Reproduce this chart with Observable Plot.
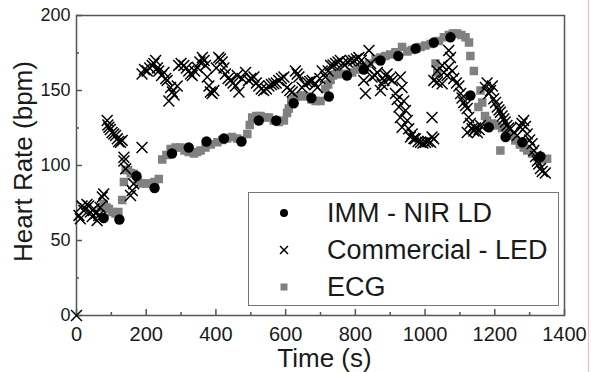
<!DOCTYPE html>
<html>
<head>
<meta charset="utf-8">
<script src="https://cdn.jsdelivr.net/npm/d3@7"></script>
<script src="https://cdn.jsdelivr.net/npm/@observablehq/plot@0.6"></script>
<style>
  body { margin: 0; background: white; }
  #wrap { position: relative; width: 591px; height: 372px; font-family: "Liberation Sans", Arial, sans-serif; color: #1a1a1a; }
  #legend { position: absolute; left: 248px; top: 192px; width: 309px; height: 112px; border: 1.5px solid #777; background: white; }
  .row { position: absolute; left: 0; height: 30px; }
  .row svg { position: absolute; left: 25px; top: 5px; }
  .row span { position: absolute; left: 78px; font-size: 27px; white-space: nowrap; line-height: 30px; top: 0; }
  #pink { position: absolute; left: 588px; top: 0; width: 1px; height: 372px; background: #f3b9b9; }
</style>
</head>
<body>
<div id="wrap">
  <div id="chart"></div>
  <div id="legend"></div>
  <div id="pink"></div>
</div>
<script>
// ---- data ----
const seriesNames = ["IMM - NIR LD", "Commercial - LED", "ECG"];

const immTime = [78,123,172,224,274,322,373,423,473,523,573,623,674,724,776,824,872,923,973,1025,1073,1130,1183,1231,1279,1331];
const immHR   = [65,64,93,85,108,112,116,118,116,130,130,141.5,145,146,160,164,170,173,178,182,185.5,146.7,125.5,119,115.5,106];

const ecgTime = [70,78,86,93,102,112,120,131,136,141,148,156,164,176,188,200,212,224,236,246,258,270,284,298,310,322,337,346,356,370,385,404,418,432,446,461,475,490,497,504,516,528,540,552,566,580,595,604,609,616,623,635,647,660,674,686,700,714,722,729,736,743,752,762,776,791,805,820,839,858,872,886,900,915,934,949,962,975,987,1001,1016,1030,1035,1040,1054,1068,1080,1092,1104,1116,1126,1130,1140,1153,1159,1164,1172,1178,1192,1207,1216,1221,1235,1247,1259,1272,1283,1293,1307,1322,1336,1350];
const ecgHR   = [72,74.5,72,71,69,68,69,77,89,97,97,95,94.5,90,88,88,88,89,91,104,107,111,112,112,110,109,108,109,110,112,114,115.5,117,118,119,118,117,121,127,132,133,133,132,132,130,129,130,135,138,143,144.5,146,146.7,146,144,143,143,151,154,157,160,161,161,161,161,162,164,165.5,168,171,172,173,174,175.5,179,176,177,178,179,180,181,168,162,183,185.5,187,188,188,187,185.5,182,173,163,139,150,142,133,130,128,126.7,110,125,123,120,116.7,114,112,110,108,105.5,104,104.5];

const commTime = [0,7,11,16,21,26,30,35,40,45,50,55,59,64,68,74,78,88,90,93,97,102,107,112,117,121,126,131,136,136,141,155,160,164,188,188,195,203,210,217,222,227,232,236,244,251,256,260,265,270,275,280,289,293,300,308,315,322,327,332,339,346,354,361,366,370,375,380,384,389,394,401,408,413,418,423,427,435,442,449,456,461,466,475,485,494,500,509,516,523,530,537,545,552,559,566,573,580,588,595,604,612,619,628,633,638,647,655,662,669,676,684,691,698,705,714,722,729,736,743,750,757,764,770,777,786,795,803,810,817,824,829,834,839,844,848,856,863,872,877,882,886,891,898,906,915,920,925,929,929,934,934,939,944,949,953,958,963,968,972,980,987,994,1001,1008,1016,1020,1025,1020,1025,1035,1035,1049,1049,1054,1063,1068,1068,1073,1078,1082,1090,1097,1102,1106,1111,1116,1121,1125,1121,1130,1135,1140,1145,1150,1155,1159,1173,1178,1183,1188,1193,1197,1202,1207,1212,1216,1221,1226,1230,1235,1240,1245,1255,1264,1274,1278,1283,1288,1293,1300,1307,1312,1317,1322,1326,1331,1336,1345];
const commHR   = [0,66.7,64.5,73,70,71,74,73,69,66,71,68,63.3,66.7,72,79,81,130,127,125.5,124,122,121,120,117.8,116,115.5,116.7,105.5,103,97.8,80,83.3,87.8,112,161,164,163,165,166.7,168,170,165,163,160,162,158,156.7,143,152,149,147,153,166.7,168,166.7,165,163,161,160,163,165.5,169,172,170,166.7,159,153,149,148,150,165,172,171,169,165,161,158,156.7,155,153,160,149,158,162,156.7,158,159,155,153,151,150,151,153,154,154.5,155,156.7,158,159,152,150,149,163,161,159,152,154,155.5,156,156.7,154,152,158,163,159,163,166.7,167,168,169,170,168,167,169,170,170,171,172,170,156.7,148,165,176.7,168,159,160,162,150,154,156.7,160,161,158,156.7,148,144,139,132,159,125.5,152,143,136.7,130,124.5,119,121,118,117.8,116,115.5,115,115.5,116,115.5,119,117.8,132,156.7,163,155.5,166.7,154.5,162,160,165.5,176.7,172,163,158,155,153,148,145,142,140,138,132,122,128,124.5,123,125,122,124,126.7,152,155,148,150,153,144.5,142,139,137,135.5,133,131,129,126.7,125,124.5,122,120,125.5,128,130,126,121,117,114.5,110,106,103,101,98,96,95];

const xTicks = [0,200,400,600,800,1000,1200,1400];
const xMinor = [100,300,500,700,900,1100,1300];
const yTicks = [0,50,100,150,200];
const yMinor = [25,75,125,175];

const imm = immTime.map((t, i) => ({t, hr: immHR[i]}));
const ecg = ecgTime.map((t, i) => ({t, hr: ecgHR[i]}));
const comm = commTime.map((t, i) => ({t, hr: commHR[i]}));

const axisColor = "#555";

const chart = Plot.plot({
  width: 591,
  height: 372,
  marginLeft: 76,
  marginRight: 27,
  marginTop: 15,
  marginBottom: 57,
  style: {fontFamily: "'Liberation Sans', Arial, sans-serif", color: "#1a1a1a", background: "white"},
  x: {domain: [0, 1400]},
  y: {domain: [0, 200]},
  marks: [
    Plot.frame({stroke: axisColor, strokeWidth: 1.5}),
    Plot.axisX(xMinor, {tickSize: -3, text: null, label: null, stroke: axisColor, strokeWidth: 1.5}),
    Plot.axisX(xTicks, {tickSize: -6, tickPadding: 17, fontSize: 20, label: null, stroke: axisColor, strokeWidth: 1.5, tickFormat: d => String(d)}),
    Plot.axisY(yMinor, {tickSize: -3, text: null, label: null, stroke: axisColor, strokeWidth: 1.5}),
    Plot.axisY(yTicks, {tickSize: -6, tickPadding: 12, fontSize: 18, label: null, stroke: axisColor, strokeWidth: 1.5, tickFormat: d => String(d)}),
    Plot.text(["Time (s)"], {frameAnchor: "bottom", dy: 43, dx: 4, fontSize: 26, lineAnchor: "middle", textAnchor: "middle", fill: "#1a1a1a"}),
    Plot.text(["Heart Rate (bpm)"], {frameAnchor: "left", rotate: -90, dx: -53, dy: -4, fontSize: 26, lineAnchor: "middle", textAnchor: "middle", fill: "#1a1a1a"}),
    Plot.dot(ecg, {x: "t", y: "hr", symbol: "square", r: 4.8, fill: "#808080", stroke: null}),
    Plot.dot(imm, {x: "t", y: "hr", r: 5.2, fill: "black", stroke: null}),
    Plot.dot(comm, {x: "t", y: "hr", symbol: "times", r: 5, stroke: "black", strokeWidth: 1.5})
  ]
});
document.getElementById("chart").appendChild(chart);

// legend
const legend = document.getElementById("legend");
const rowTops = [5, 42, 79];
const markers = [
  '<circle cx="10" cy="10" r="4" fill="black"/>',
  '<path d="M6,6L14,14M14,6L6,14" stroke="black" stroke-width="1.5"/>',
  '<rect x="6.5" y="6.5" width="7" height="7" fill="#808080"/>'
];
seriesNames.forEach((name, i) => {
  const row = document.createElement("div");
  row.className = "row";
  row.style.top = rowTops[i] + "px";
  row.innerHTML = `<svg width="20" height="20">${markers[i]}</svg><span>${name}</span>`;
  legend.appendChild(row);
});
</script>
</body>
</html>
